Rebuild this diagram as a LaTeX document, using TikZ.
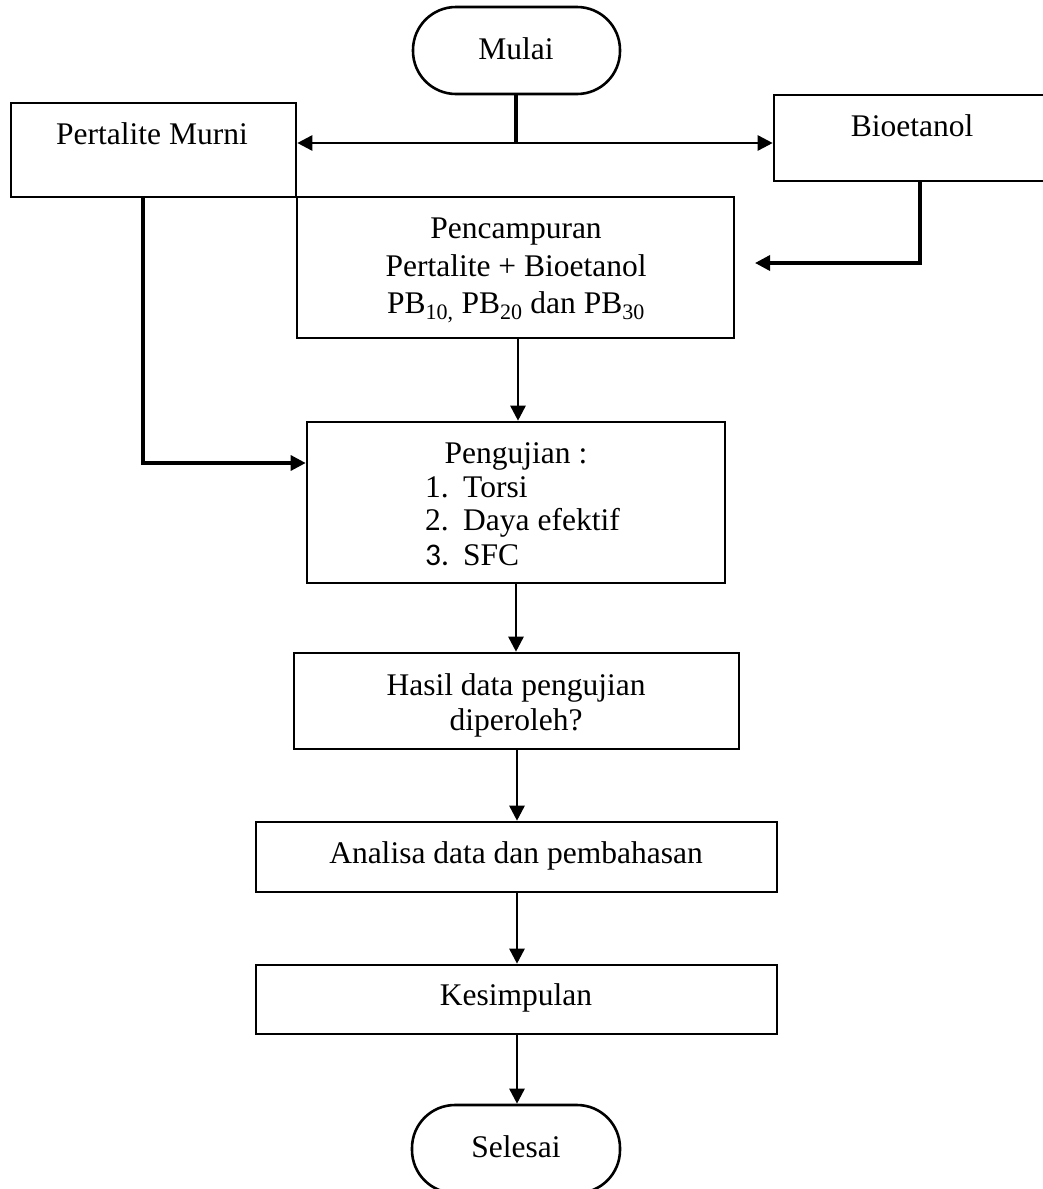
\documentclass[tikz,border=0pt]{standalone}
\usepackage{fontspec}
\setmainfont{Liberation Serif}
\newfontfamily\numfont{Carlito}
\usetikzlibrary{arrows.meta}
\tikzset{
  box/.style={draw, line width=2.6pt, rectangle, inner sep=0pt},
  term/.style={draw, line width=2.6pt, rectangle, rounded corners=43pt, inner sep=0pt},
  txt/.style={anchor=base, inner sep=0pt, font=\fontsize{31.5}{37}\selectfont},
  txtw/.style={anchor=base west, inner sep=0pt, font=\fontsize{31.5}{37}\selectfont},
  conn/.style={line width=2.6pt},
  arr/.style={line width=2.6pt, -{Triangle[length=15pt,width=15pt]}},
  thick conn/.style={line width=3.6pt},
}
\begin{document}
\begin{tikzpicture}[x=1pt,y=-1pt]
\useasboundingbox (0,0) rectangle (1043,1189);
\fill[white] (0,0) rectangle (1043,1189);
\clip (0,0) rectangle (1043,1189);

% shapes
\node[term, minimum width=207pt, minimum height=87pt] (mulai) at (516.5,50.5) {};
\node[box, minimum width=285pt, minimum height=94pt] (pm) at (153.5,150) {};
\node[box, minimum width=290pt, minimum height=86pt] (bio) at (919,138) {};
\node[box, minimum width=437pt, minimum height=141pt] (pen) at (515.5,267.5) {};
\node[box, minimum width=418pt, minimum height=161pt] (uji) at (516,502.5) {};
\node[box, minimum width=445pt, minimum height=96pt] (hasil) at (516.5,701) {};
\node[box, minimum width=521pt, minimum height=70pt] (ana) at (516.5,857) {};
\node[box, minimum width=521pt, minimum height=69pt] (kes) at (516.5,999.5) {};
\node[term, minimum width=208pt, minimum height=88pt] (sel) at (516,1149) {};

% texts
\node[txt] (t-mulai) at (516,59) {Mulai};
\node[txt] (t-pm) at (152,144) {Pertalite Murni};
\node[txt] (t-bio) at (912,136) {Bioetanol};
\node[txt] (t-pen1) at (516,238) {Pencampuran};
\node[txt] (t-pen2) at (516,276) {Pertalite + Bioetanol};
\node[txt] (t-pen3) at (516,313) {PB\textsubscript{10,} PB\textsubscript{20} dan PB\textsubscript{30}};
\node[txt] (t-uji) at (516,463) {Pengujian :};
\node[txtw] (n1) at (425,497) {1.};
\node[txtw] (i1) at (463,497) {Torsi};
\node[txtw] (n2) at (425,530) {2.};
\node[txtw] (i2) at (463,530) {Daya efektif};
\node[txtw] (n3) at (425,565) {\numfont 3.};
\node[txtw] (i3) at (463,565) {SFC};
\node[txt] (t-has1) at (516,695) {Hasil data pengujian};
\node[txt] (t-has2) at (516,730) {diperoleh?};
\node[txt] (t-ana) at (516,863) {Analisa data dan pembahasan};
\node[txt] (t-kes) at (516,1005) {Kesimpulan};
\node[txt] (t-sel) at (516,1157) {Selesai};

% connectors
\coordinate (j) at (516,143);
\draw[thick conn] (mulai.south -| j) -- (j);
\draw[arr] (j) -- (j -| pm.east);
\draw[arr] (j) -- (j -| bio.west);

\coordinate (bt) at (755,263);
\draw[arr, line width=3.4pt] (bio.south -| 920,0) |- (bt);

\draw[arr, line width=3.2pt] (pm.south -| 143,0) |- (uji.west |- 0,463);

\draw[arr] (pen.south -| 518,0) -- (uji.north -| 518,0);
\draw[arr] (uji.south -| 516,0) -- (hasil.north -| 516,0);
\draw[arr] (hasil.south -| 517,0) -- (ana.north -| 517,0);
\draw[arr] (ana.south -| 517,0) -- (kes.north -| 517,0);
\draw[arr] (kes.south -| 517,0) -- (sel.north -| 517,0);
\end{tikzpicture}
\end{document}
